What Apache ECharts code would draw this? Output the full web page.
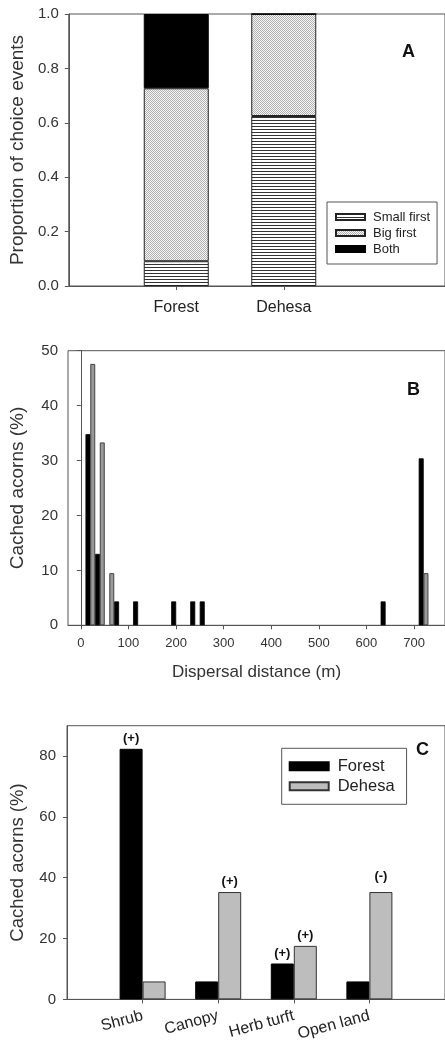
<!DOCTYPE html>
<html><head><meta charset="utf-8">
<script src="https://cdn.jsdelivr.net/npm/echarts@6/dist/echarts.min.js"></script>
<style>html,body{margin:0;padding:0;background:#fff}#c{width:445px;height:1043px}</style>
</head><body><div id="c"></div>
<script>
// ---- Panel A data ----
const choiceCategories = ['Forest', 'Dehesa'];
const smallFirst = [0.091, 0.625];
const bigFirst = [0.636, 0.375];
const both = [0.273, 0];
const propTicks = [0, 0.2, 0.4, 0.6, 0.8, 1.0];

// ---- Panel B data ----
const forestDistance = [15, 35, 75, 115, 195, 235, 255, 635, 715];
const forestDispersal = [34.8, 13.0, 4.35, 4.35, 4.35, 4.35, 4.35, 4.35, 30.4];
const dehesaDistance = [25, 45, 65, 725];
const dehesaDispersal = [47.6, 33.3, 9.5, 9.5];
const distanceTicks = [0, 100, 200, 300, 400, 500, 600, 700];

// ---- Panel C data ----
const habitats = ['Shrub', 'Canopy', 'Herb turft', 'Open land'];
const forestHabitat = [82.4, 5.9, 11.8, 5.9];
const dehesaHabitat = [5.9, 35.3, 17.6, 35.3];
const forestSig = ['(+)', '', '(+)', ''];
const dehesaSig = ['', '(+)', '(+)', '(-)'];
const habitatTicks = [0, 20, 40, 60, 80];

const FONT = "'Liberation Sans', Arial, sans-serif";
const AX = '#555';

function stripePattern() {
  const c = document.createElement('canvas');
  c.width = 4; c.height = 3;
  const g = c.getContext('2d');
  g.fillStyle = '#fff'; g.fillRect(0, 0, 4, 3);
  g.fillStyle = '#333'; g.fillRect(0, 0, 4, 1);
  return { image: c, repeat: 'repeat' };
}
function dotPattern() {
  const c = document.createElement('canvas');
  c.width = 2; c.height = 2;
  const g = c.getContext('2d');
  g.fillStyle = '#f6f6f6'; g.fillRect(0, 0, 2, 2);
  g.fillStyle = '#b0b0b0'; g.fillRect(0, 0, 1, 1); g.fillRect(1, 1, 1, 1);
  return { image: c, repeat: 'repeat' };
}

const axisLine = { lineStyle: { color: AX, width: 1 } };
const axisTick = (vals) => ({ show: true, inside: false, length: 4, lineStyle: { color: AX }, customValues: vals });
const nameStyle = (size) => ({ fontFamily: FONT, fontSize: size, color: '#333' });

const chart = echarts.init(document.getElementById('c'), null, { renderer: 'canvas' });

// value first, position second, so the value dimension is the stacked one
const stackData = (arr) => arr.map((v, i) => [v, i + 1]);

const option = {
  animation: false,
  backgroundColor: '#fff',
  textStyle: { fontFamily: FONT },
  grid: [
    { left: 68, top: 14, width: 382, height: 272, show: true, borderColor: AX, borderWidth: 1, backgroundColor: 'transparent' },
    { left: 68, top: 350.7, width: 382, height: 274.6, show: true, borderColor: AX, borderWidth: 1, backgroundColor: 'transparent' },
    { left: 66.7, top: 725.7, width: 382, height: 274.3, show: true, borderColor: AX, borderWidth: 1, backgroundColor: 'transparent' }
  ],
  xAxis: [
    { gridIndex: 0, type: 'value', min: 0, max: 3.5, axisLine, splitLine: { show: false },
      axisTick: axisTick([1, 2]),
      axisLabel: { customValues: [1, 2], formatter: v => choiceCategories[Math.round(v) - 1] || '',
        fontSize: 16, color: '#222', margin: 14, fontFamily: FONT } },
    { gridIndex: 1, type: 'value', min: -27, max: 765, axisLine, splitLine: { show: false },
      axisTick: axisTick(distanceTicks),
      axisLabel: { customValues: distanceTicks, fontSize: 13, color: '#333', margin: 12, fontFamily: FONT },
      name: 'Dispersal distance (m)', nameLocation: 'middle', nameGap: 39, nameTextStyle: nameStyle(17) },
    { gridIndex: 2, type: 'value', min: 0, max: 5, axisLine, splitLine: { show: false },
      axisTick: axisTick([1, 2, 3, 4]),
      axisLabel: { customValues: [1, 2, 3, 4], formatter: v => habitats[Math.round(v) - 1] || '',
        rotate: 15, fontSize: 16, color: '#222', margin: 16, fontFamily: FONT } }
  ],
  yAxis: [
    { gridIndex: 0, type: 'value', min: 0, max: 1, axisLine, splitLine: { show: false },
      axisTick: axisTick(propTicks),
      axisLabel: { customValues: propTicks, formatter: v => v.toFixed(1), fontSize: 15, color: '#333', margin: 10, fontFamily: FONT },
      name: 'Proportion of choice events', nameLocation: 'middle', nameGap: 41, nameTextStyle: nameStyle(19) },
    { gridIndex: 1, type: 'value', min: 0, max: 50, interval: 10, axisLine, splitLine: { show: false },
      axisTick: { show: true, inside: false, length: 4, lineStyle: { color: AX } },
      axisLabel: { fontSize: 15, color: '#333', margin: 10, fontFamily: FONT },
      name: 'Cached acorns (%)', nameLocation: 'middle', nameGap: 41, nameTextStyle: nameStyle(19) },
    { gridIndex: 2, type: 'value', min: 0, max: 90, axisLine, splitLine: { show: false },
      axisTick: axisTick(habitatTicks),
      axisLabel: { customValues: habitatTicks, fontSize: 15, color: '#333', margin: 11, fontFamily: FONT },
      name: 'Cached acorns (%)', nameLocation: 'middle', nameGap: 40, nameTextStyle: nameStyle(18.5) }
  ],
  legend: [
    { data: ['Small first', 'Big first', 'Both'], orient: 'vertical', left: 327, top: 202,
      padding: [8, 7, 8, 8], itemWidth: 29, itemHeight: 6, itemGap: 2, icon: 'rect',
      borderColor: AX, borderWidth: 1, selectedMode: false,
      textStyle: { fontSize: 13, lineHeight: 14, color: '#222', fontFamily: FONT, padding: [0, 0, 0, 3] } },
    { data: ['Forest', 'Dehesa'], orient: 'vertical', left: 281.7, top: 748.3,
      padding: [9, 12, 9, 7], itemWidth: 39, itemHeight: 8, itemGap: 2, icon: 'rect',
      borderColor: AX, borderWidth: 1, selectedMode: false,
      textStyle: { fontSize: 16.5, lineHeight: 18, color: '#222', fontFamily: FONT, padding: [0, 0, 0, 4] } }
  ],
  graphic: [
    { type: 'text', left: 402, top: 43, style: { text: 'A', font: "bold 18px 'Liberation Sans', Arial", fill: '#111' } },
    { type: 'text', left: 407, top: 381, style: { text: 'B', font: "bold 18px 'Liberation Sans', Arial", fill: '#111' } },
    { type: 'text', left: 416, top: 741, style: { text: 'C', font: "bold 18px 'Liberation Sans', Arial", fill: '#111' } }
  ],
  series: [
    // Panel C first so the legend picks these styles
    { type: 'bar', name: 'Forest', xAxisIndex: 2, yAxisIndex: 2, barWidth: 23, barGap: 0,
      itemStyle: { color: '#000', borderColor: '#000', borderWidth: 1 },
      data: forestHabitat.map((v, i) => ({ value: [i + 1, v],
        label: { show: !!forestSig[i], formatter: forestSig[i], position: 'top', distance: 4,
          fontSize: 13, fontWeight: 'bold', color: '#111', fontFamily: FONT } })) },
    { type: 'bar', name: 'Dehesa', xAxisIndex: 2, yAxisIndex: 2, barWidth: 23, barGap: 0,
      itemStyle: { color: '#bdbdbd', borderColor: '#333', borderWidth: 1 },
      data: dehesaHabitat.map((v, i) => ({ value: [i + 1, v],
        label: { show: !!dehesaSig[i], formatter: dehesaSig[i], position: 'top',
          distance: dehesaSig[i] === '(-)' ? 9 : 4,
          fontSize: 13, fontWeight: 'bold', color: '#111', fontFamily: FONT } })) },
    // Panel A (stacked)
    { type: 'bar', name: 'Small first', xAxisIndex: 0, yAxisIndex: 0, stack: 'choice', barWidth: 65,
      encode: { x: 1, y: 0 },
      itemStyle: { color: stripePattern(), borderColor: '#222', borderWidth: 1 },
      data: stackData(smallFirst) },
    { type: 'bar', name: 'Big first', xAxisIndex: 0, yAxisIndex: 0, stack: 'choice', barWidth: 65,
      encode: { x: 1, y: 0 },
      itemStyle: { color: dotPattern(), borderColor: '#222', borderWidth: 1 },
      data: stackData(bigFirst) },
    { type: 'bar', name: 'Both', xAxisIndex: 0, yAxisIndex: 0, stack: 'choice', barWidth: 65,
      encode: { x: 1, y: 0 },
      itemStyle: { color: '#000', borderColor: '#000', borderWidth: 1 },
      data: stackData(both) },
    // Panel B
    { type: 'bar', name: 'Forest dispersal', xAxisIndex: 1, yAxisIndex: 1, barWidth: 5, barGap: '-100%',
      itemStyle: { color: '#000', borderColor: '#000', borderWidth: 0.8 },
      data: forestDistance.map((d, i) => [d, forestDispersal[i]]) },
    { type: 'bar', name: 'Dehesa dispersal', xAxisIndex: 1, yAxisIndex: 1, barWidth: 5, barGap: '-100%',
      itemStyle: { color: '#999', borderColor: '#444', borderWidth: 1 },
      data: dehesaDistance.map((d, i) => [d, dehesaDispersal[i]]) }
  ]
};
chart.setOption(option);
</script>
</body></html>
